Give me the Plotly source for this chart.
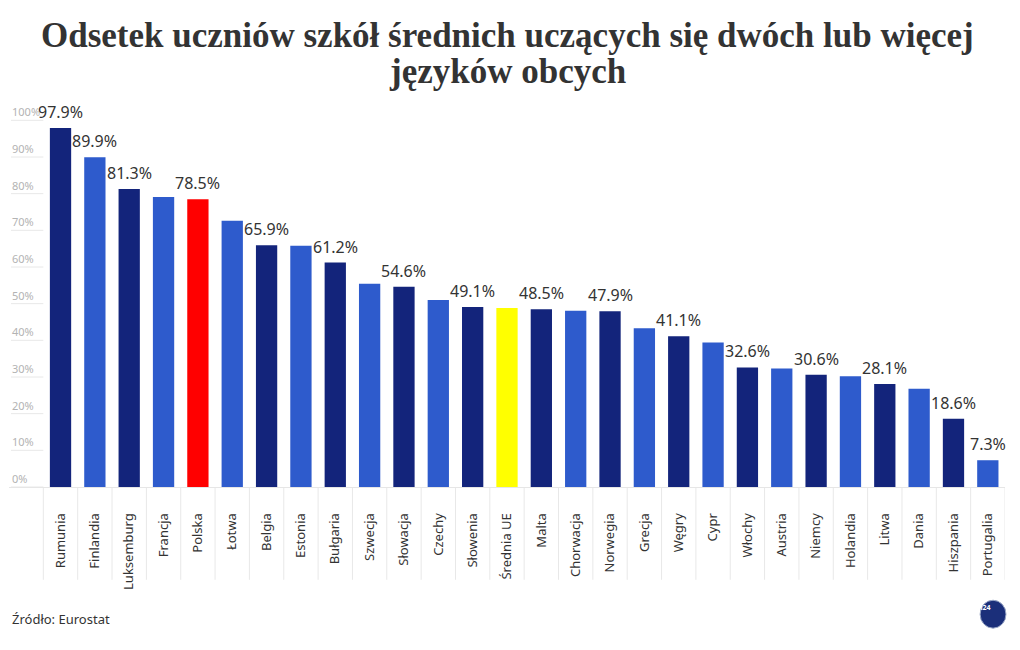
import plotly.graph_objects as go

categories = ["Rumunia", "Finlandia", "Luksemburg", "Francja", "Polska", "Łotwa", "Belgia",
              "Estonia", "Bułgaria", "Szwecja", "Słowacja", "Czechy", "Słowenia", "Średnia UE",
              "Malta", "Chorwacja", "Norwegia", "Grecja", "Węgry", "Cypr", "Włochy", "Austria",
              "Niemcy", "Holandia", "Litwa", "Dania", "Hiszpania", "Portugalia"]
values = [97.9, 89.9, 81.3, 79.1, 78.5, 72.6, 65.9, 65.8, 61.2, 55.4, 54.6, 51.0, 49.1, 48.8,
          48.5, 48.1, 47.9, 43.3, 41.1, 39.4, 32.6, 32.3, 30.6, 30.2, 28.1, 26.8, 18.6, 7.3]
shown_labels = [True, True, True, False, True, False, True, False, True, False, True, False,
                True, False, True, False, True, False, True, False, True, False, True, False,
                True, False, True, True]
DARK, LIGHT, RED, YELLOW = "#13247b", "#2e5bcc", "#ff0000", "#ffff00"
colors = [DARK, LIGHT, DARK, LIGHT, RED, LIGHT, DARK, LIGHT, DARK, LIGHT, DARK, LIGHT, DARK,
          YELLOW, DARK, LIGHT, DARK, LIGHT, DARK, LIGHT, DARK, LIGHT, DARK, LIGHT, DARK, LIGHT,
          DARK, LIGHT]
y_ticks = [0, 10, 20, 30, 40, 50, 60, 70, 80, 90, 100]
title_lines = ["Odsetek uczniów szkół średnich uczących się dwóch lub więcej", "języków obcych"]
source_text = "Źródło: Eurostat"

FONT = "Noto Sans"
TITLE_FONT = "Liberation Serif"

fig = go.Figure()
fig.add_trace(go.Bar(x=categories, y=values, marker=dict(color=colors, line=dict(width=0)),
                     hoverinfo="x+y"))

annotations = []
for c, v, s in zip(categories, values, shown_labels):
    if s:
        annotations.append(dict(x=c, y=v, xref="x", yref="y", text=f"{v:.1f}%",
                                showarrow=False, yanchor="bottom", yshift=3,
                                font=dict(family=FONT, size=16, color="#333333")))

for txt, yp in zip(title_lines, [1.1726, 1.0793]):
    annotations.append(dict(x=0.5, y=yp, xref="paper", yref="paper", text=f"<b>{txt}</b>",
                            showarrow=False, xanchor="center", yanchor="middle",
                            font=dict(family=TITLE_FONT, size=35, color="#333333")))

annotations.append(dict(x=0.001, y=-0.3434, xref="paper", yref="paper", text=source_text,
                        showarrow=False, xanchor="left", yanchor="middle",
                        font=dict(family=FONT, size=13, color="#333333")))

shapes = []
# short horizontal guide lines under the y tick labels
for t in y_ticks:
    shapes.append(dict(type="line", xref="paper", yref="y", x0=0.002, x1=1 / 29, y0=t, y1=t,
                       line=dict(color="#e8e8e8", width=1), layer="below"))
# vertical separators between category labels
for i in range(len(categories) + 1):
    shapes.append(dict(type="line", xref="x", yref="paper", x0=i - 0.5, x1=i - 0.5,
                       y0=-0.241, y1=0, line=dict(color="#e8e8e8", width=1), layer="below"))

# logo (approximation)
shapes.append(dict(type="circle", xref="paper", yref="paper",
                   x0=0.975, x1=1.001, y0=-0.3667, y1=-0.2941, fillcolor="#1b2f7a",
                   line=dict(color="#9aa7c7", width=1)))
annotations.append(dict(xref="paper", yref="paper", x=0.988, y=-0.3304, text="<b>tvn24</b>",
                        showarrow=False, font=dict(family=FONT, size=7, color="white")))

fig.update_layout(
    width=1012, height=642,
    margin=dict(l=1, r=15, t=93.6, b=162.5),
    paper_bgcolor="white", plot_bgcolor="white",
    showlegend=False,
    bargap=0.38,
    xaxis=dict(type="category", range=[-1.5, len(categories) - 0.5], tickangle=-90,
               ticks="outside", ticklen=20, tickcolor="rgba(0,0,0,0)",
               showgrid=False, showline=True, linecolor="#e6e6e6", linewidth=1,
               tickfont=dict(family=FONT, size=13, color="#333333"), fixedrange=True),
    yaxis=dict(range=[0, 105], tickvals=y_ticks, ticktext=[f"{t}%" for t in y_ticks],
               ticklabelposition="inside top", showgrid=False, zeroline=False,
               showline=False, ticks="",
               tickfont=dict(family=FONT, size=11, color="#b3b3b3"), fixedrange=True),
    annotations=annotations,
    shapes=shapes,
)

fig.write_html("out.html")
